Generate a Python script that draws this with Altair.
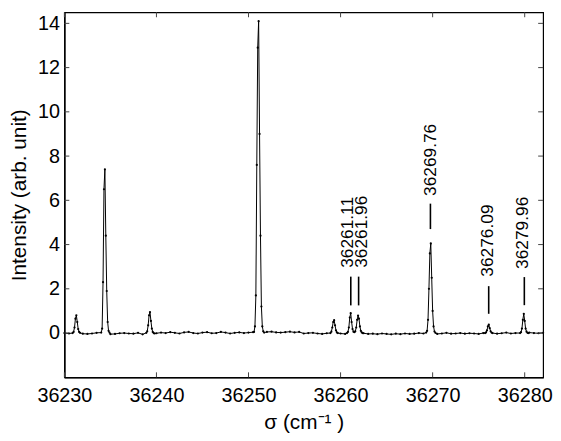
import altair as alt
import pandas as pd

# ---------------- data ----------------
# baseline samples every 0.5 cm-1 starting at 36230.0
base_start = 36230.0
base_step = 0.5
base_int = [0.00, -0.02, 0.01, 0.00, -0.03, -0.04, -0.02, 0.01, -0.03, 0.02,
            -0.05, -0.04, -0.01, 0.00, -0.02, -0.03, 0.01, -0.06, -0.08, -0.03,
            -0.01, 0.02, 0.00, 0.04, 0.01, -0.02, 0.03, 0.05, 0.00, -0.02,
            0.02, 0.04, -0.01, 0.00, 0.05, 0.02, -0.02, 0.01, 0.03, 0.00,
            0.02, 0.04, 0.03, 0.01, 0.05, 0.06, 0.03, 0.02, 0.04, 0.06,
            0.03, 0.05, -0.02, 0.00, 0.01, -0.02, -0.04, -0.01, -0.03, -0.05,
            -0.02, -0.04, -0.03, 0.00, -0.02, -0.01, -0.04, -0.03, -0.05, -0.02,
            -0.04, -0.06, -0.03, -0.05, -0.02, -0.04, -0.03, 0.00, -0.02, -0.03,
            -0.01, -0.04, -0.02, 0.01, -0.03, -0.02, 0.00, -0.03, -0.01, -0.02,
            -0.04, 0.00, -0.02, 0.01, -0.03, -0.01, 0.02, -0.02, 0.00, 0.01,
            -0.01, 0.02, 0.00, -0.01, 0.01]

# peak regions: first sample position, intensities every 0.1 cm-1
peak_step = 0.1
peak_start = [36230.9, 36234.0, 36238.9, 36250.6, 36258.9, 36260.7,
              36269.3, 36275.7, 36279.5]
peak_int = [
    [0.00, 0.05, 0.25, 0.65, 0.80, 0.50, 0.18, 0.05, 0.01],
    [0.02, 0.20, 2.30, 6.50, 7.40, 4.40, 1.90, 0.50, 0.10, 0.02],
    [0.01, 0.08, 0.35, 0.80, 0.95, 0.55, 0.20, 0.05, 0.00, -0.02],
    [0.05, 0.30, 1.70, 7.60, 12.90, 14.10, 9.00, 4.40, 1.20, 0.30, 0.08, 0.02],
    [0.00, 0.06, 0.25, 0.50, 0.58, 0.35, 0.12, 0.03, 0.00],
    [0.00, 0.05, 0.25, 0.70, 0.90, 0.50, 0.18, 0.06, 0.04, 0.08, 0.25, 0.60,
     0.79, 0.65, 0.30, 0.10, 0.03, 0.00],
    [0.02, 0.10, 0.60, 2.00, 3.60, 4.05, 2.50, 1.00, 0.30, 0.07, 0.01],
    [0.00, 0.03, 0.12, 0.30, 0.38, 0.22, 0.08, 0.02, 0.00],
    [0.00, 0.04, 0.20, 0.60, 0.87, 0.55, 0.20, 0.06, 0.01, 0.00],
]

# annotated lines
ann_sigma = [36261.11, 36261.96, 36269.76, 36276.09, 36279.96]
ann_label = ["36261.11", "36261.96", "36269.76", "36276.09", "36279.96"]
ann_low = [1.25, 1.25, 4.70, 0.87, 1.26]
ann_high = [2.55, 2.55, 5.85, 2.12, 2.53]
ann_text_sigma = [36260.80, 36262.30, 36269.80, 36276.05, 36279.85]
ann_text_y = [2.95, 2.95, 6.20, 2.55, 2.90]

x_ticks = [36230, 36240, 36250, 36260, 36270, 36280]
y_ticks = [0, 2, 4, 6, 8, 10, 12, 14]
x_domain = [36230, 36282]
y_domain = [-2, 14.5]

# ---------------- build tables ----------------
rows = []
windows = []
for s0, vals in zip(peak_start, peak_int):
    for i, v in enumerate(vals):
        rows.append({"sigma": round(s0 + i * peak_step, 2), "I": v})
    windows.append((s0 - 0.01, s0 + (len(vals) - 1) * peak_step + 0.01))
for i, v in enumerate(base_int):
    s = round(base_start + i * base_step, 2)
    if not any(a <= s <= b for a, b in windows):
        rows.append({"sigma": s, "I": v})
spec = pd.DataFrame(rows).sort_values("sigma").reset_index(drop=True)

ann = pd.DataFrame({"sigma": ann_sigma, "label": ann_label, "low": ann_low,
                    "high": ann_high, "tx": ann_text_sigma, "ty": ann_text_y})
xt = pd.DataFrame({"sigma": x_ticks})
yt = pd.DataFrame({"I": y_ticks})

W, H = 484, 369
FONT = "Liberation Sans"
xs = alt.Scale(domain=x_domain, nice=False, zero=False)
ys = alt.Scale(domain=y_domain, nice=False, zero=False)
ax_x = alt.Axis(values=x_ticks, format="d", ticks=False, grid=False,
                labelFlush=False, labelPadding=8, title="σ (cm⁻¹ )",
                titlePadding=7, domainColor="black", domainWidth=1.5)
ax_y = alt.Axis(values=y_ticks, format="d", ticks=False, grid=False,
                labelFlush=False, labelPadding=5, title="Intensity (arb. unit)",
                titlePadding=8, domainColor="black", domainWidth=1.5)


def X(field):
    return alt.X(field, type="quantitative", scale=xs, axis=ax_x)


def Y(field):
    return alt.Y(field, type="quantitative", scale=ys, axis=ax_y)


line = alt.Chart(spec).mark_line(
    color="black", strokeWidth=1,
    point=alt.OverlayMarkDef(filled=True, size=5, color="black")
).encode(x=X("sigma"), y=Y("I"))

ann_rules = alt.Chart(ann).mark_rule(color="black", strokeWidth=1.6).encode(
    x=X("sigma"), y=Y("low"), y2="high")

ann_text = alt.Chart(ann).mark_text(
    angle=270, align="left", baseline="middle", font=FONT, fontSize=17.5,
    color="black"
).encode(x=X("tx"), y=Y("ty"), text="label:N")

tk = dict(color="#444444", strokeWidth=1)
left_ticks = alt.Chart(yt).mark_rule(**tk).encode(
    y=Y("I"), x=alt.value(0), x2=alt.value(5))
right_ticks = alt.Chart(yt).mark_rule(**tk).encode(
    y=Y("I"), x=alt.value(W - 5), x2=alt.value(W))
top_ticks = alt.Chart(xt).mark_rule(**tk).encode(
    x=X("sigma"), y=alt.value(0), y2=alt.value(5))
bottom_ticks = alt.Chart(xt).mark_rule(**tk).encode(
    x=X("sigma"), y=alt.value(H - 5), y2=alt.value(H))

chart = alt.layer(
    line, ann_rules, ann_text, left_ticks, right_ticks, top_ticks, bottom_ticks
).properties(
    width=W, height=H,
    padding={"left": 0, "top": 1, "right": 0, "bottom": 0},
).configure_view(
    stroke="black", strokeWidth=1.2
).configure_axis(
    labelFont=FONT, labelFontSize=20, labelColor="black",
    titleFont=FONT, titleFontSize=21, titleColor="black", titleFontWeight="normal",
)

chart.save("out.html", embed_options={"renderer": "svg", "actions": False})
